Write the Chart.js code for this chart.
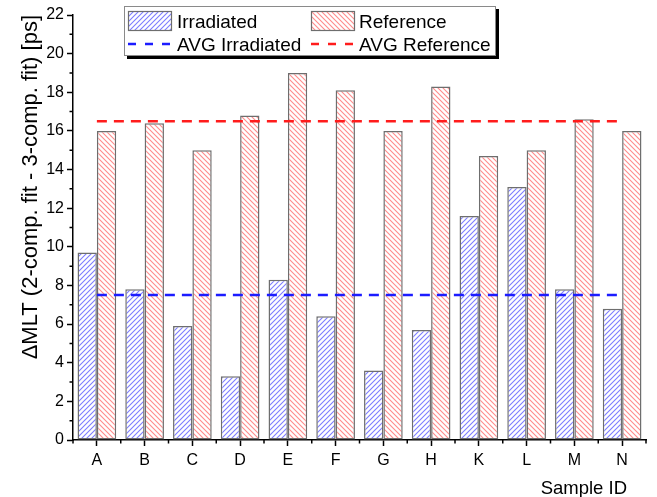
<!DOCTYPE html>
<html><head><meta charset="utf-8">
<script src="https://cdn.jsdelivr.net/npm/chart.js@4"></script>
<style>html,body{margin:0;padding:0;background:#fff}#wrap{width:657px;height:497px}</style>
</head><body><div id="wrap"><canvas id="c" width="657" height="497"></canvas></div>
<script>
const categories = ['A','B','C','D','E','F','G','H','K','L','M','N'];
const irradiated = [9.7, 7.8, 5.9, 3.3, 8.3, 6.4, 3.6, 5.7, 11.6, 13.1, 7.8, 6.8];
const reference  = [16.0, 16.4, 15.0, 16.8, 19.0, 18.1, 16.0, 18.3, 14.7, 15.0, 16.6, 16.0];
const avgIrradiated = 7.5;
const avgReference = 16.5;
const yMin = 0, yMax = 22, yStep = 2;

const FONT = "'Liberation Sans', Arial, sans-serif";
const BLUE_HATCH = '#7d7dff', RED_HATCH = '#ff8c8c';
const BLUE_LINE = '#1c1cff', RED_LINE = '#ff1c1c';

function hatch(color, dir){
  const s = 5, c = document.createElement('canvas'); c.width = s; c.height = s;
  const x = c.getContext('2d');
  x.fillStyle = '#fff'; x.fillRect(0,0,s,s);
  x.strokeStyle = color; x.lineWidth = 1.1;
  x.beginPath();
  if (dir > 0) {
    x.moveTo(-1, s+1); x.lineTo(s+1, -1);
    x.moveTo(-1, 1); x.lineTo(1, -1);
    x.moveTo(s-1, s+1); x.lineTo(s+1, s-1);
  } else {
    x.moveTo(-1, -1); x.lineTo(s+1, s+1);
    x.moveTo(s-1, -1); x.lineTo(s+1, 1);
    x.moveTo(-1, s-1); x.lineTo(1, s+1);
  }
  x.stroke();
  return x.createPattern(c, 'repeat');
}
const patIrr = hatch(BLUE_HATCH, 1);
const patRef = hatch(RED_HATCH, -1);

const extras = {
  id: 'extras',
  afterDraw(chart) {
    const ctx = chart.ctx;
    const xs = chart.scales.x, ys = chart.scales.y;
    ctx.save();
    ctx.strokeStyle = '#000'; ctx.lineWidth = 1.5;
    // y minor ticks
    ctx.beginPath();
    for (let v = yMin + yStep/2; v < yMax; v += yStep) {
      const y = ys.getPixelForValue(v);
      ctx.moveTo(ys.right - 3.5, y); ctx.lineTo(ys.right, y);
    }
    // x minor ticks between categories
    const n = categories.length;
    for (let i = 0; i <= n; i++) {
      let x;
      if (i === 0) x = xs.left; else if (i === n) x = xs.right;
      else x = (xs.getPixelForTick(i-1) + xs.getPixelForTick(i)) / 2;
      ctx.moveTo(x, xs.top); ctx.lineTo(x, xs.top + 3.5);
    }
    ctx.stroke();

    // x axis title
    ctx.fillStyle = '#000';
    ctx.font = '18.5px ' + FONT;
    ctx.textAlign = 'right'; ctx.textBaseline = 'alphabetic';
    ctx.fillText('Sample ID', 627, 494);

    // legend
    const ds = chart.data.datasets;
    const bx = 124, by = 6, bw = 372, bh = 50;
    ctx.fillStyle = '#000';
    ctx.fillRect(bx + 3, by + 3, bw, bh);
    ctx.fillStyle = '#fff';
    ctx.fillRect(bx, by, bw, bh);
    ctx.strokeStyle = '#8a8a8a'; ctx.lineWidth = 1;
    ctx.strokeRect(bx + 0.5, by + 0.5, bw - 1, bh - 1);
    const cols = [128, 311];
    const txt = [177, 359];
    ctx.font = '19px ' + FONT;
    ctx.textAlign = 'left';
    // row 1: bars
    [0,1].forEach(k => {
      const d = ds[k];
      ctx.fillStyle = d.backgroundColor;
      ctx.fillRect(cols[k], 11, 43, 19);
      ctx.strokeStyle = '#6e6e6e'; ctx.lineWidth = 1.2;
      ctx.strokeRect(cols[k] + 0.5, 11.5, 43, 19);
      ctx.fillStyle = '#000';
      ctx.fillText(d.label, txt[k], 28);
    });
    // row 2: lines
    [2,3].forEach((k, j) => {
      const d = ds[k];
      ctx.strokeStyle = d.borderColor; ctx.lineWidth = 2.5;
      ctx.setLineDash([8, 9]);
      ctx.beginPath(); ctx.moveTo(cols[j], 44); ctx.lineTo(cols[j] + 44, 44); ctx.stroke();
      ctx.setLineDash([]);
      ctx.fillStyle = '#000';
      ctx.fillText(d.label, txt[j], 51);
    });
    ctx.restore();
  }
};

new Chart(document.getElementById('c'), {
  type: 'bar',
  data: {
    labels: categories,
    datasets: [
      { label: 'Irradiated', data: irradiated, backgroundColor: patIrr, borderColor: '#6e6e6e', borderWidth: 1.5, borderSkipped: false, categoryPercentage: 0.81, barPercentage: 1.0, order: 2 },
      { label: 'Reference', data: reference, backgroundColor: patRef, borderColor: '#6e6e6e', borderWidth: 1.5, borderSkipped: false, categoryPercentage: 0.81, barPercentage: 1.0, order: 2 },
      { type: 'line', label: 'AVG Irradiated', data: categories.map(() => avgIrradiated), borderColor: BLUE_LINE, borderWidth: 2.5, borderDash: [10, 7], pointRadius: 0, fill: false, order: 0 },
      { type: 'line', label: 'AVG Reference', data: categories.map(() => avgReference), borderColor: RED_LINE, borderWidth: 2.5, borderDash: [10, 7], pointRadius: 0, fill: false, order: 0 }
    ]
  },
  options: {
    responsive: false,
    animation: false,
    devicePixelRatio: 1,
    layout: { padding: { left: 0, right: 11, top: 15, bottom: 0 } },
    plugins: { legend: { display: false }, tooltip: { enabled: false } },
    scales: {
      x: {
        type: 'category', offset: true,
        grid: { display: true, drawOnChartArea: false, drawTicks: true, tickLength: 6, offset: false, color: '#000', tickWidth: 1.5 },
        border: { display: true, color: '#000', width: 1.5 },
        ticks: { font: { family: FONT, size: 16 }, color: '#000', padding: 5, maxRotation: 0, autoSkip: false },
        afterFit(s) { s.height = 57; }
      },
      y: {
        min: yMin, max: yMax,
        grid: { display: true, drawOnChartArea: false, drawTicks: true, tickLength: 6, color: '#000', tickWidth: 1.5 },
        border: { display: true, color: '#000', width: 1.5 },
        ticks: { stepSize: yStep, font: { family: FONT, size: 16 }, color: '#000', padding: 3 },
        title: { display: true, text: 'ΔMLT (2-comp. fit - 3-comp. fit) [ps]', align: 'end', color: '#000', font: { family: FONT, size: 22 }, padding: { top: 18, bottom: 0 } },
        afterFit(s) { s.width = 73; }
      }
    }
  },
  plugins: [extras]
});
</script>
</body></html>
